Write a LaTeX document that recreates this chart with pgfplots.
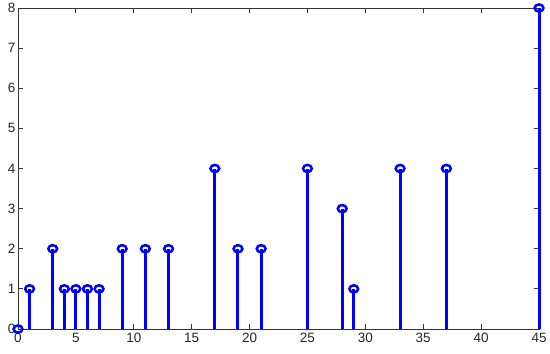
\documentclass[border=0pt]{standalone}
\usepackage{fontspec}
\setmainfont{Liberation Sans}
\usepackage{pgfplots}
\pgfplotsset{compat=1.18}
\definecolor{stemblue}{RGB}{0,0,255}

\begin{document}
\begin{tikzpicture}[x=1pt,y=1pt]
\begin{axis}[
  scale only axis,
  width=521pt, height=321pt,
  xmin=0, xmax=45, ymin=0, ymax=8,
  xtick={0,5,...,45}, ytick={0,1,...,8},
  tick align=inside, tick pos=both,
  major tick length=5pt,
  axis line style={line width=0.8pt, black!80},
  tick style={line width=0.8pt, black!80},
  tick label style={font=\fontsize{13.5}{15}\selectfont, black!85},
  /pgf/number format/assume math mode=true,
  xticklabel style={yshift=-1pt},
  yticklabel style={xshift=1pt},
  clip=false,
]
\addplot[ycomb, stemblue, line width=3pt,
  mark=o, mark size=4pt, mark options={line width=2.5pt, fill=white, xscale=1.1, yscale=0.9}]
  coordinates {
  (0,0) (1,1) (3,2) (4,1) (5,1) (6,1) (7,1) (9,2) (11,2) (13,2)
  (17,4) (19,2) (21,2) (25,4) (28,3) (29,1) (33,4) (37,4) (45,8)
  };
\end{axis}
\pgfresetboundingbox
\path ([shift={(-18pt,-24pt)}]current axis.south west)
  rectangle ([shift={(11pt,8pt)}]current axis.north east);
\end{tikzpicture}
\end{document}
